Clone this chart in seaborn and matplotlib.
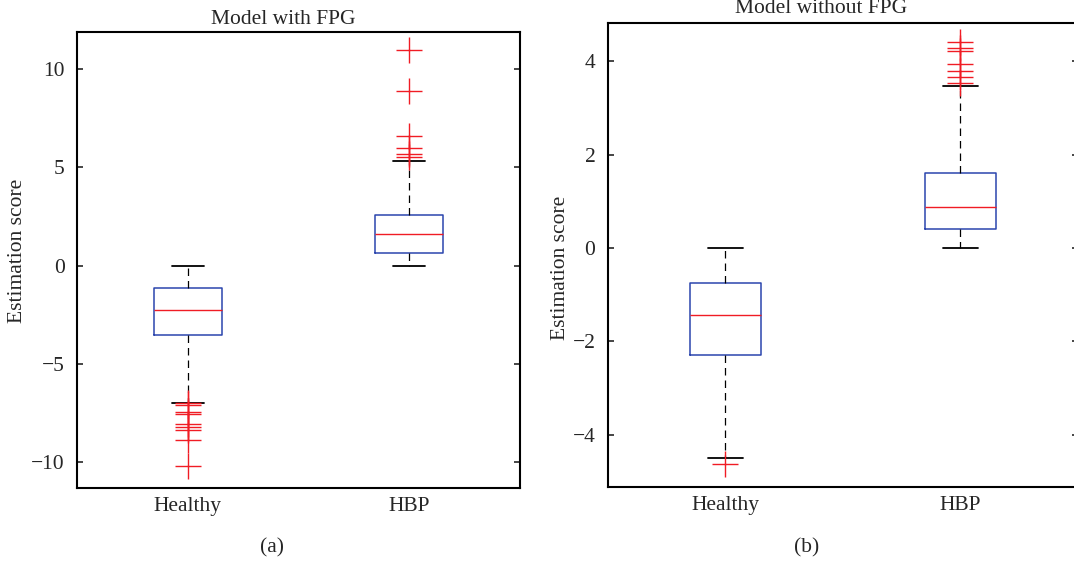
import matplotlib.pyplot as plt
import seaborn as sns
import pandas as pd

# Summary statistics
groups = ['Healthy', 'HBP']

# (a) Model with FPG
a_q1 = [-3.52, 0.65]
a_med = [-2.25, 1.63]
a_q3 = [-1.13, 2.58]
a_whislo = [-6.96, 0.0]
a_whishi = [0.0, 5.32]
a_out_healthy = [-7.0, -7.08, -7.42, -7.55, -8.06, -8.22, -8.37, -8.88, -10.17]
a_out_hbp = [5.51, 5.66, 5.97, 6.61, 8.88, 10.97]

# (b) Model without FPG
b_q1 = [-2.29, 0.40]
b_med = [-1.44, 0.87]
b_q3 = [-0.76, 1.61]
b_whislo = [-4.51, 0.0]
b_whishi = [0.0, 3.46]
b_out_healthy = [-4.63]
b_out_hbp = [3.53, 3.67, 3.80, 3.94, 4.21, 4.28, 4.41]

a_yticks = [-10, -5, 0, 5, 10]
b_yticks = [-4, -2, 0, 2, 4]

BLUE = '#2b45ad'
RED = '#f01c24'
FS = 15.5

sns.set_style('white')
plt.rcParams['font.family'] = ['Liberation Serif', 'DejaVu Serif']
plt.rcParams['font.size'] = FS


def draw_panel(ax, q1, med, q3, wlo, whi, out_h, out_p, yticks, ylim):
    stats = []
    for i, g in enumerate(groups):
        stats.append({'label': g, 'q1': q1[i], 'med': med[i], 'q3': q3[i],
                      'whislo': wlo[i], 'whishi': whi[i], 'fliers': []})
    ax.bxp(stats, positions=[1, 2], widths=0.305, capwidths=0.145,
           showfliers=False, manage_ticks=False,
           boxprops={'color': BLUE, 'linewidth': 1.1},
           medianprops={'color': RED, 'linewidth': 1.0},
           whiskerprops={'color': 'black', 'linewidth': 0.9,
                         'linestyle': (0, (6.0, 4.0))},
           capprops={'color': 'black', 'linewidth': 1.3})

    # outliers as '+' markers
    out = pd.DataFrame({
        'pos': [1] * len(out_h) + [2] * len(out_p),
        'score': out_h + out_p,
    })
    sns.scatterplot(data=out, x='pos', y='score', ax=ax, marker='+',
                    color=RED, s=330, linewidth=1.0, zorder=5, legend=False)

    ax.set_xlim(0.5, 2.5)
    ax.set_ylim(*ylim)
    ax.set_xticks([1, 2])
    ax.set_xticklabels(groups)
    ax.set_yticks(yticks)
    ax.set_yticklabels([str(t).replace('-', '\u2212') for t in yticks])
    ax.tick_params(axis='x', length=0, pad=6.5, labelsize=FS)
    ax.tick_params(axis='y', direction='in', left=True, right=True,
                   length=4.5, width=1.2, pad=9, labelsize=FS)
    ax.set_xlabel('')
    ax.set_ylabel('Estimation score', fontsize=FS, va='center')
    for sp in ax.spines.values():
        sp.set_visible(True)
        sp.set_color('black')
        sp.set_linewidth(1.5)


fig = plt.figure(figsize=(10.74, 5.63), dpi=100)
ax_a = fig.add_axes([0.0717, 0.1337, 0.4125, 0.81])
ax_b = fig.add_axes([0.5661, 0.1345, 0.4376, 0.8242])

draw_panel(ax_a, a_q1, a_med, a_q3, a_whislo, a_whishi,
           a_out_healthy, a_out_hbp, a_yticks, (-11.29, 11.9))
draw_panel(ax_b, b_q1, b_med, b_q3, b_whislo, b_whishi,
           b_out_healthy, b_out_hbp, b_yticks, (-5.13, 4.815))

ax_a.yaxis.set_label_coords(-0.134, 0.52)
ax_b.yaxis.set_label_coords(-0.102, 0.473)

fig.text(0.2635, 0.957, 'Model with FPG', ha='center', va='baseline', fontsize=FS)
fig.text(0.7644, 0.977, 'Model without FPG', ha='center', va='baseline', fontsize=FS)
fig.text(272 / 1074, 15 / 563, '(a)', ha='center', va='center', fontsize=FS)
fig.text(807 / 1074, 15 / 563, '(b)', ha='center', va='center', fontsize=FS)

fig.savefig('out.png', dpi=100)
